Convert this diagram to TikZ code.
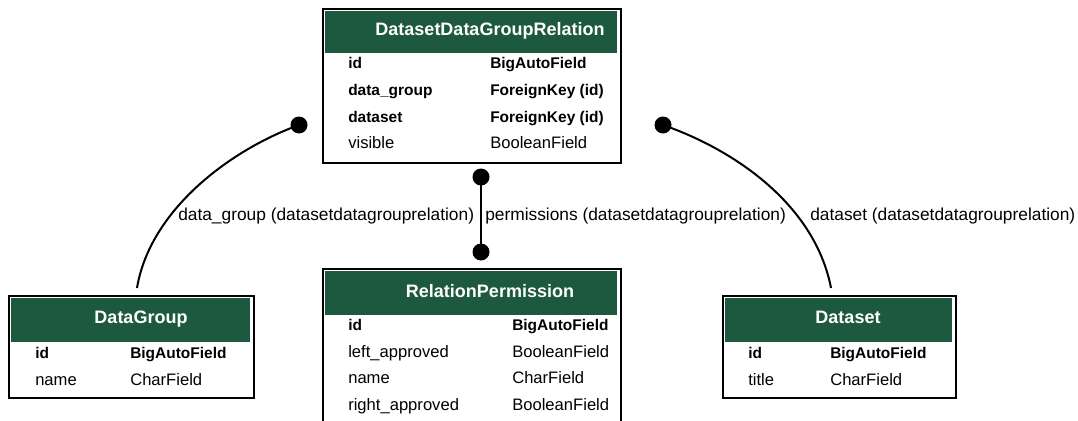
\documentclass[tikz,border=0pt]{standalone}
\usepackage{fontspec}
\setmainfont{Liberation Sans}
\definecolor{hdr}{RGB}{29,89,63}
\begin{document}
\begin{tikzpicture}[x=0.75pt,y=-0.75pt,
  frame/.style={draw=black, line width=1.6pt, fill=white, anchor=north west, inner sep=0pt},
  header/.style={fill=hdr, anchor=north west, inner sep=0pt},
  title/.style={text=white, font=\fontsize{13.5pt}{16pt}\selectfont\bfseries, anchor=base, inner sep=0pt},
  key/.style={font=\fontsize{11.6pt}{14pt}\selectfont\bfseries, anchor=base west, inner sep=0pt},
  field/.style={font=\fontsize{12.45pt}{15pt}\selectfont, anchor=base west, inner sep=0pt},
  rel/.style={font=\fontsize{13pt}{15pt}\selectfont, anchor=base west, inner sep=0pt},
  conn/.style={line width=1.5pt, black},
  dot/.style={circle, fill=black, inner sep=0pt, minimum size=12.75pt}]
\path[use as bounding box, clip] (0,0) rectangle (1078,421);

% DatasetDataGroupRelation
\node[frame, minimum width={298*0.75pt}, minimum height={154*0.75pt}] (rel) at (322,8) {};
\node[header, minimum width={292*0.75pt}, minimum height={42*0.75pt}] (relH) at (325,11) {};
\node[title] (relT) at (490,36) {DatasetDataGroupRelation};
\node[key] (relK1) at (348,68) {id};
\node[key] (relV1) at (490,68) {BigAutoField};
\node[key] (relK2) at (348,95) {data\_group};
\node[key] (relV2) at (490,95) {ForeignKey (id)};
\node[key] (relK3) at (348,122) {dataset};
\node[key] (relV3) at (490,122) {ForeignKey (id)};
\node[field] (relK4) at (348,148) {visible};
\node[field] (relV4) at (490,148) {BooleanField};

% RelationPermission
\node[frame, minimum width={298*0.75pt}, minimum height={200*0.75pt}] (perm) at (322,268) {};
\node[header, minimum width={292*0.75pt}, minimum height={44*0.75pt}] (permH) at (325,271) {};
\node[title] (permT) at (490,297) {RelationPermission};
\node[key] (permK1) at (348,330) {id};
\node[key] (permV1) at (512,330) {BigAutoField};
\node[field] (permK2) at (348,357) {left\_approved};
\node[field] (permV2) at (512,357) {BooleanField};
\node[field] (permK3) at (348,383) {name};
\node[field] (permV3) at (512,383) {CharField};
\node[field] (permK4) at (348,410) {right\_approved};
\node[field] (permV4) at (512,410) {BooleanField};

% DataGroup
\node[frame, minimum width={245*0.75pt}, minimum height={102*0.75pt}] (dg) at (8,295) {};
\node[header, minimum width={239*0.75pt}, minimum height={44*0.75pt}] (dgH) at (11,298) {};
\node[title] (dgT) at (141,323) {DataGroup};
\node[key] (dgK1) at (35,358) {id};
\node[key] (dgV1) at (130,358) {BigAutoField};
\node[field] (dgK2) at (35,385) {name};
\node[field] (dgV2) at (130,385) {CharField};

% Dataset
\node[frame, minimum width={233*0.75pt}, minimum height={102*0.75pt}] (ds) at (722,295) {};
\node[header, minimum width={227*0.75pt}, minimum height={44*0.75pt}] (dsH) at (725,298) {};
\node[title] (dsT) at (848,323) {Dataset};
\node[key] (dsK1) at (748,358) {id};
\node[key] (dsV1) at (830,358) {BigAutoField};
\node[field] (dsK2) at (748,385) {title};
\node[field] (dsV2) at (830,385) {CharField};

% relation end points
\coordinate (dgIn) at (137,288);
\coordinate (dsIn) at (831,288);
\node[dot] (d1) at (299,125) {};
\node[dot] (d2) at (481,177) {};
\node[dot] (d3) at (481,252) {};
\node[dot] (d4) at (663,125) {};

% connectors
\draw[conn] (d1.center) .. controls (230,150) and (150,210) .. (dgIn);
\draw[conn] (d2.center) -- (d3.center);
\draw[conn] (d4.center) .. controls (735,150) and (815,205) .. (dsIn);

% relation labels
\node[rel] (l1) at (178,220) {data\_group (datasetdatagrouprelation)};
\node[rel] (l2) at (485,220) {permissions (datasetdatagrouprelation)};
\node[rel] (l3) at (810,220) {dataset (datasetdatagrouprelation)};
\end{tikzpicture}
\end{document}
